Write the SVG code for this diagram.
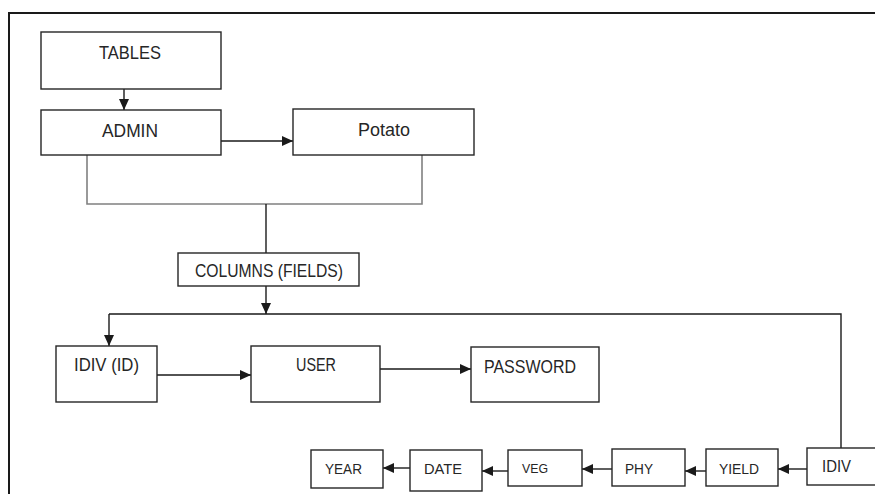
<svg xmlns="http://www.w3.org/2000/svg" width="875" height="494" viewBox="0 0 875 494">
  <style>
    .box { fill: #ffffff; stroke: #262626; stroke-width: 1.4; }
    .lbl { font-family: "Liberation Sans", Arial, sans-serif; font-size: 17.5px; fill: #262626; }
    .sm { font-size: 15px; }
    .wire { fill: none; stroke: #1a1a1a; stroke-width: 1.4; }
    .grey { fill: none; stroke: #808080; stroke-width: 1.6; }
    .arr { marker-end: url(#head); }
  </style>
  <defs>
    <marker id="head" markerUnits="userSpaceOnUse" markerWidth="12" markerHeight="10" refX="11" refY="5" orient="auto">
      <path d="M0,0 L11,5 L0,10 Z" fill="#1a1a1a"/>
    </marker>
  </defs>

  <rect x="0" y="0" width="875" height="494" fill="#ffffff"/>
  <!-- page border -->
  <path d="M9,500 V13 H880" fill="none" stroke="#1a1a1a" stroke-width="2"/>

  <g id="connectors">
    <line class="wire arr" x1="124" y1="89" x2="124" y2="110"/>
    <line class="wire arr" x1="221" y1="141" x2="293" y2="141"/>
    <path class="grey" d="M87,155 V204 H422 V155"/>
    <line class="wire" x1="266" y1="204" x2="266" y2="253"/>
    <line class="wire arr" x1="266" y1="286" x2="266" y2="314"/>
    <path class="wire" d="M109,314 H841 V448"/>
    <line class="wire arr" x1="109" y1="314" x2="109" y2="346"/>
    <line class="wire arr" x1="157" y1="375" x2="251" y2="375"/>
    <line class="wire arr" x1="380" y1="369" x2="471" y2="369"/>
    <line class="wire arr" x1="807" y1="469" x2="778" y2="469"/>
    <line class="wire arr" x1="706" y1="471" x2="685" y2="471"/>
    <line class="wire arr" x1="612" y1="469" x2="582" y2="469"/>
    <line class="wire arr" x1="508" y1="471" x2="482" y2="471"/>
    <line class="wire arr" x1="410" y1="468" x2="383" y2="468"/>
  </g>

  <g id="tables">
    <rect class="box" x="41" y="32" width="180" height="57"/>
    <text class="lbl" x="99" y="59" textLength="62" lengthAdjust="spacingAndGlyphs">TABLES</text>
  </g>
  <g id="admin">
    <rect class="box" x="41" y="110" width="180" height="45"/>
    <text class="lbl" x="102" y="137" textLength="56" lengthAdjust="spacingAndGlyphs">ADMIN</text>
  </g>
  <g id="potato">
    <rect class="box" x="293" y="109" width="181" height="46"/>
    <text class="lbl" x="358" y="136" textLength="52" lengthAdjust="spacingAndGlyphs">Potato</text>
  </g>
  <g id="columns">
    <rect class="box" x="178" y="253" width="181" height="33"/>
    <text class="lbl" x="195" y="277" textLength="148" lengthAdjust="spacingAndGlyphs">COLUMNS (FIELDS)</text>
  </g>
  <g id="idiv-id">
    <rect class="box" x="56" y="346" width="101" height="56"/>
    <text class="lbl" x="74" y="371" textLength="65" lengthAdjust="spacingAndGlyphs">IDIV (ID)</text>
  </g>
  <g id="user">
    <rect class="box" x="251" y="346" width="129" height="56"/>
    <text class="lbl" x="296" y="371" textLength="40" lengthAdjust="spacingAndGlyphs">USER</text>
  </g>
  <g id="password">
    <rect class="box" x="471" y="347" width="128" height="55"/>
    <text class="lbl" x="484" y="373" textLength="92" lengthAdjust="spacingAndGlyphs">PASSWORD</text>
  </g>

  <g id="year">
    <rect class="box" x="311" y="450" width="72" height="38"/>
    <text class="lbl sm" x="325" y="474" textLength="37" lengthAdjust="spacingAndGlyphs">YEAR</text>
  </g>
  <g id="date">
    <rect class="box" x="410" y="450" width="72" height="41"/>
    <text class="lbl sm" x="424" y="474" textLength="38" lengthAdjust="spacingAndGlyphs">DATE</text>
  </g>
  <g id="veg">
    <rect class="box" x="508" y="450" width="74" height="36"/>
    <text class="lbl sm" x="522" y="473" textLength="26" lengthAdjust="spacingAndGlyphs" style="font-size:13px">VEG</text>
  </g>
  <g id="phy">
    <rect class="box" x="612" y="449" width="73" height="37"/>
    <text class="lbl sm" x="625" y="474" textLength="28" lengthAdjust="spacingAndGlyphs">PHY</text>
  </g>
  <g id="yield">
    <rect class="box" x="706" y="449" width="72" height="37"/>
    <text class="lbl sm" x="719" y="474" textLength="40" lengthAdjust="spacingAndGlyphs">YIELD</text>
  </g>
  <g id="idiv">
    <rect class="box" x="807" y="448" width="75" height="37"/>
    <text class="lbl sm" x="822" y="472" textLength="29" lengthAdjust="spacingAndGlyphs" style="font-size:16px">IDIV</text>
  </g>
</svg>
